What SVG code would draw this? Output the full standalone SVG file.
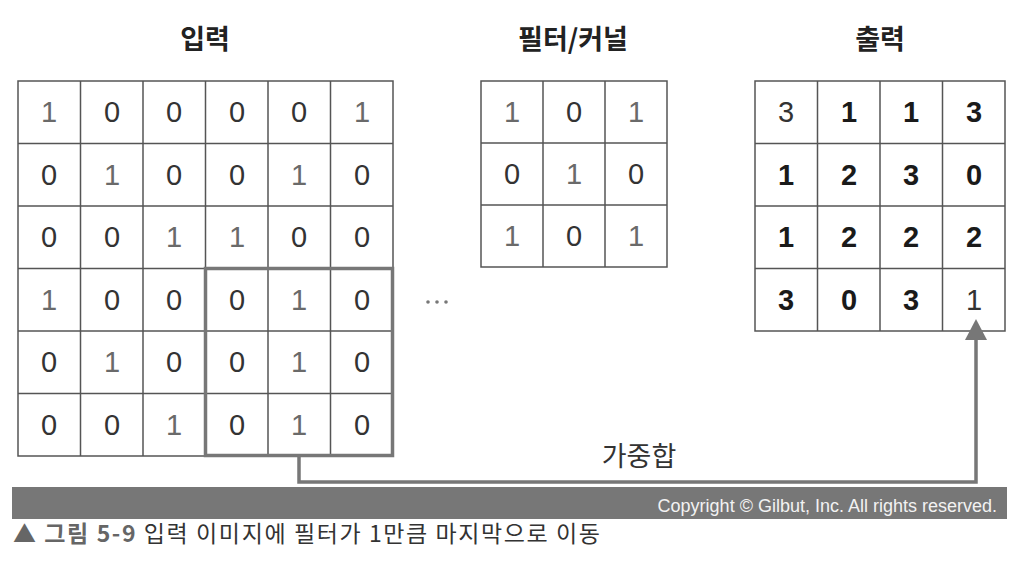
<svg xmlns="http://www.w3.org/2000/svg" width="1012" height="564" viewBox="0 0 1012 564">
<style>
.title{font-family:"Noto Sans CJK KR","Noto Sans",sans-serif;font-size:27px;font-weight:bold;fill:#222;text-anchor:middle}
.cell{fill:#fff;stroke:#555;stroke-width:1.5}
.n{font-family:"Liberation Sans",Arial,sans-serif;font-size:29px;fill:#333;text-anchor:middle}
.n1{fill:#6a6a6a}
.b{font-family:"Liberation Sans",Arial,sans-serif;font-size:29px;font-weight:bold;fill:#1a1a1a;text-anchor:middle}
.conn{fill:none;stroke:#777;stroke-width:3.5}
</style>
<rect width="1012" height="564" fill="#fff"/>

<g id="input">
<text class="title" x="205" y="49">입력</text>
<g>
<rect class="cell" x="18" y="81" width="375" height="375"/>
<path d="M80.5,81V456M143,81V456M205.5,81V456M268,81V456M330.5,81V456M18,143.5H393M18,206H393M18,268.5H393M18,331H393M18,393.5H393" stroke="#555" stroke-width="1.5"/>
</g>
<g>
<text class="n n1" x="49" y="122">1</text><text class="n" x="112" y="122">0</text><text class="n" x="174" y="122">0</text><text class="n" x="237" y="122">0</text><text class="n" x="299" y="122">0</text><text class="n n1" x="362" y="122">1</text>
<text class="n" x="49" y="185">0</text><text class="n n1" x="112" y="185">1</text><text class="n" x="174" y="185">0</text><text class="n" x="237" y="185">0</text><text class="n n1" x="299" y="185">1</text><text class="n" x="362" y="185">0</text>
<text class="n" x="49" y="247">0</text><text class="n" x="112" y="247">0</text><text class="n n1" x="174" y="247">1</text><text class="n n1" x="237" y="247">1</text><text class="n" x="299" y="247">0</text><text class="n" x="362" y="247">0</text>
<text class="n n1" x="49" y="310">1</text><text class="n" x="112" y="310">0</text><text class="n" x="174" y="310">0</text><text class="n" x="237" y="310">0</text><text class="n n1" x="299" y="310">1</text><text class="n" x="362" y="310">0</text>
<text class="n" x="49" y="372">0</text><text class="n n1" x="112" y="372">1</text><text class="n" x="174" y="372">0</text><text class="n" x="237" y="372">0</text><text class="n n1" x="299" y="372">1</text><text class="n" x="362" y="372">0</text>
<text class="n" x="49" y="435">0</text><text class="n" x="112" y="435">0</text><text class="n n1" x="174" y="435">1</text><text class="n" x="237" y="435">0</text><text class="n n1" x="299" y="435">1</text><text class="n" x="362" y="435">0</text>
</g>
<rect id="window" x="205.5" y="268.5" width="187" height="187" fill="none" stroke="#777" stroke-width="3.5"/>
</g>

<g id="ellipsis">
<circle cx="428" cy="302" r="1.8" fill="#777"/><circle cx="437" cy="302" r="1.8" fill="#777"/><circle cx="446" cy="302" r="1.8" fill="#777"/>
</g>

<g id="filter">
<text class="title" x="573" y="49">필터/커널</text>
<rect class="cell" x="481" y="81" width="186" height="186"/>
<path d="M543,81V267M605,81V267M481,143H667M481,205H667" stroke="#555" stroke-width="1.5"/>
<text class="n n1" x="512" y="122">1</text><text class="n" x="574" y="122">0</text><text class="n n1" x="636" y="122">1</text>
<text class="n" x="512" y="184">0</text><text class="n n1" x="574" y="184">1</text><text class="n" x="636" y="184">0</text>
<text class="n n1" x="512" y="246">1</text><text class="n" x="574" y="246">0</text><text class="n n1" x="636" y="246">1</text>
</g>

<g id="output">
<text class="title" x="880" y="49">출력</text>
<rect class="cell" x="755" y="81" width="250" height="250"/>
<path d="M817.5,81V331M880,81V331M942.5,81V331M755,143.5H1005M755,206H1005M755,268.5H1005" stroke="#555" stroke-width="1.5"/>
<text class="n" x="786" y="122">3</text><text class="b" x="849" y="122">1</text><text class="b" x="911" y="122">1</text><text class="b" x="974" y="122">3</text>
<text class="b" x="786" y="185">1</text><text class="b" x="849" y="185">2</text><text class="b" x="911" y="185">3</text><text class="b" x="974" y="185">0</text>
<text class="b" x="786" y="247">1</text><text class="b" x="849" y="247">2</text><text class="b" x="911" y="247">2</text><text class="b" x="974" y="247">2</text>
<text class="b" x="786" y="310">3</text><text class="b" x="849" y="310">0</text><text class="b" x="911" y="310">3</text><text class="n" x="974" y="310" fill="#777">1</text>
</g>

<g id="connectors">
<path class="conn" d="M299,456V482H976V338"/>
<polygon points="976,319 965,340 987,340" fill="#777"/>
<text x="639" y="466" font-family="Noto Sans CJK KR,Noto Sans,sans-serif" font-size="27" fill="#333" text-anchor="middle">가중합</text>
</g>

<g id="footer">
<rect x="12" y="487" width="995" height="32" fill="#777"/>
<text x="997" y="512" font-family="Liberation Sans,Arial,sans-serif" font-size="18" fill="#f2f2f2" text-anchor="end">Copyright © Gilbut, Inc. All rights reserved.</text>
<text x="13" y="542" font-family="Noto Sans CJK KR,Noto Sans,sans-serif" font-size="23" fill="#333" textLength="587" lengthAdjust="spacing"><tspan fill="#666">▲</tspan> <tspan fill="#666" font-weight="bold">그림 5-9</tspan> 입력 이미지에 필터가 1만큼 마지막으로 이동</text>
</g>
</svg>
